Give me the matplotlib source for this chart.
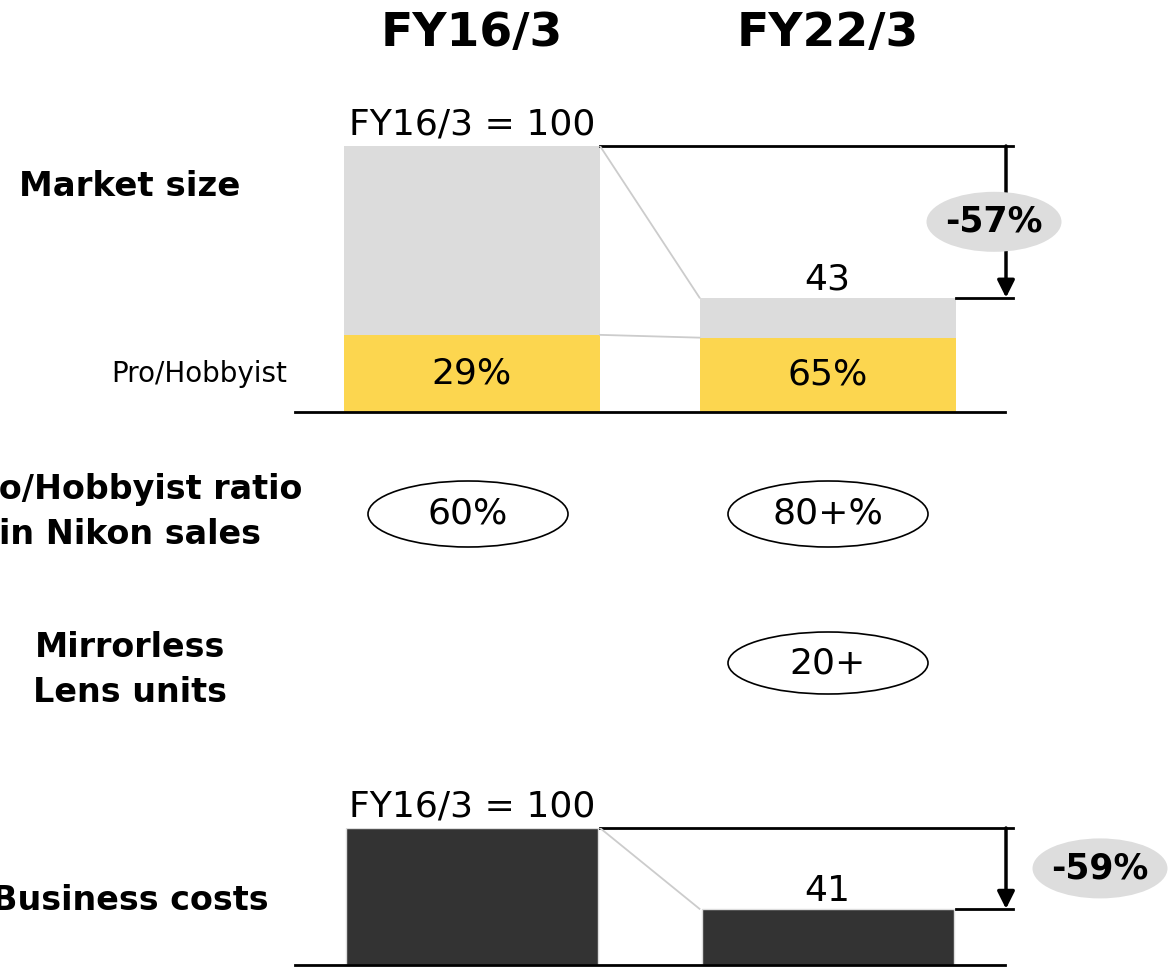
import matplotlib.pyplot as plt
from matplotlib.patches import Ellipse

# values
periods = ['FY16/3', 'FY22/3']
market_size = [100, 43]          # FY16/3 = 100
pro_share = [29, 65]             # Pro/Hobbyist share of market, %
nikon_pro_ratio = ['60%', '80+%']
lens_units = [None, '20+']
business_costs = [100, 41]       # FY16/3 = 100

GREY = '#dcdcdc'
YELLOW = '#fcd64f'
DARK = '#333333'
LINE = '#cccccc'

W, H = 1170, 968
fig = plt.figure(figsize=(W / 100, H / 100), dpi=100)

# overlay axes in pixel units for labels and shapes
bg = fig.add_axes([0, 0, 1, 1])
bg.set_xlim(0, W)
bg.set_ylim(H, 0)
bg.axis('off')

bar_x = [472, 827.5]
bar_w = 256
x_dim = 1006
x_dim_end = 1013


def chart_axes(base_px, height_px):
    ax = fig.add_axes([0, (H - base_px) / H, 1, height_px / H])
    ax.set_xlim(0, W)
    ax.set_ylim(0, 100)
    ax.axis('off')
    return ax


def change_marker(ax, vals, px_per_unit, ell_x):
    right = [x + bar_w / 2 for x in bar_x]
    ax.plot([right[0], x_dim_end], [vals[0], vals[0]], color='black', lw=2, clip_on=False)
    ax.plot([right[1], x_dim_end], [vals[1], vals[1]], color='black', lw=2, clip_on=False)
    ax.annotate('', xy=(x_dim, vals[1]), xytext=(x_dim, vals[0]),
                arrowprops=dict(arrowstyle='-|>', lw=2.5, color='black',
                                mutation_scale=26, shrinkA=0, shrinkB=0))
    mid = (vals[0] + vals[1]) / 2
    ax.add_patch(Ellipse((ell_x, mid), 135, 60 / px_per_unit, fc='#dddddd',
                         ec='none', zorder=5, clip_on=False))
    pct = round((vals[1] / vals[0] - 1) * 100)
    ax.text(ell_x, mid, f'{pct}%', ha='center', va='center', fontsize=25,
            fontweight='bold', zorder=6)
    # grey connector from old top to new top
    ax.plot([right[0], bar_x[1] - bar_w / 2], [vals[0], vals[1]], color=LINE, lw=1.3)
    ax.annotate(f'{periods[0]} = {vals[0]}', (bar_x[0], vals[0]), xytext=(0, 5),
                textcoords='offset pixels', ha='center', va='bottom', fontsize=26)
    ax.annotate(f'{vals[1]}', (bar_x[1], vals[1]), xytext=(0, 1),
                textcoords='offset pixels', ha='center', va='bottom', fontsize=26)
    ax.plot([295, 1005], [0, 0], color='black', lw=2, clip_on=False)


# --- market size
top = chart_axes(412, 266)
pro = [m * s / 100 for m, s in zip(market_size, pro_share)]
rest = [m - p for m, p in zip(market_size, pro)]
top.bar(bar_x, pro, width=bar_w, color=YELLOW)
top.bar(bar_x, rest, bottom=pro, width=bar_w, color=GREY)
for x, p, s in zip(bar_x, pro, pro_share):
    top.text(x, p / 2, f'{s}%', ha='center', va='center', fontsize=26)
top.plot([bar_x[0] + bar_w / 2, bar_x[1] - bar_w / 2], pro, color=LINE, lw=1.3)
change_marker(top, market_size, 2.66, 994)

# --- business costs
bot = chart_axes(965, 137)
bot.bar(bar_x, business_costs, width=bar_w - 4, color=DARK, edgecolor='#dddddd', lw=1)
change_marker(bot, business_costs, 1.37, 1100)

# --- headers and row labels
for x, p in zip(bar_x, periods):
    bg.text(x, 33, p, ha='center', va='center', fontsize=34, fontweight='bold')

bg.text(130, 187, 'Market size', ha='center', va='center', fontsize=24.5, fontweight='bold')
bg.text(287, 374, 'Pro/Hobbyist', ha='right', va='center', fontsize=20)
bg.text(130, 512, 'Pro/Hobbyist ratio\nin Nikon sales', ha='center', va='center',
        fontsize=24, fontweight='bold', linespacing=1.45)
bg.text(130, 670, 'Mirrorless\nLens units', ha='center', va='center',
        fontsize=24, fontweight='bold', linespacing=1.45)
bg.text(130, 900, 'Business costs', ha='center', va='center', fontsize=24, fontweight='bold')

# --- ratio / lens bubbles
for x, t in zip([468, 828], nikon_pro_ratio):
    bg.add_patch(Ellipse((x, 514), 200, 66, fc='white', ec='black', lw=1.2))
    bg.text(x, 514, t, ha='center', va='center', fontsize=26)
for x, t in zip([468, 828], lens_units):
    if t is None:
        continue
    bg.add_patch(Ellipse((x, 663), 200, 62, fc='white', ec='black', lw=1.2))
    bg.text(x, 663, t, ha='center', va='center', fontsize=26)

fig.savefig('out.png', dpi=100)
